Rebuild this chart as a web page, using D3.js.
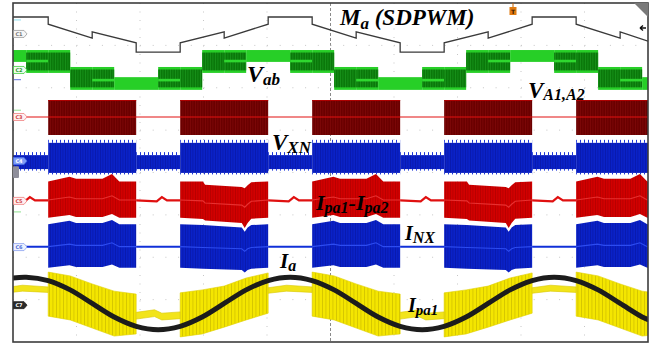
<!DOCTYPE html>
<html>
<head>
<meta charset="utf-8">
<script src="https://cdn.jsdelivr.net/npm/d3@7/dist/d3.min.js"></script>
<style>
html,body{margin:0;padding:0;background:#fff;overflow:hidden;}
svg{display:block;}
.lbl{font-family:"Liberation Serif","Times New Roman",serif;font-weight:bold;font-style:italic;fill:#000;}
.tag{font-family:"DejaVu Sans",sans-serif;font-size:5px;font-weight:bold;}
</style>
</head>
<body>
<svg id="scope" width="658" height="344"></svg>
<script>
// ================= DATA =================
// horizontal: electrical angle (deg); vertical: oscilloscope screen divisions
const timeRange = [-378, 488];
const divRange = [-4, 4];
const gridDivX = [1, 2, 3, 4, 5, 6, 7, 8, 9];
const gridDivY = [-3, -2, -1, 0, 1, 2, 3];

// C1  M_a (SDPWM modulating signal)
const maPoints = [[-378,3.67],[-330,3.67],[-330,3.50],[-270,3.17],[-270,3.32],[-210,3.06],[-210,2.84],[-150,2.84],[-150,3.06],[-90,3.32],[-90,3.17],[-30,3.50],[-30,3.67],[30,3.67],[30,3.50],[90,3.17],[90,3.32],[150,3.06],[150,2.84],[210,2.84],[210,3.06],[270,3.32],[270,3.17],[330,3.50],[330,3.67],[390,3.67],[390,3.50],[450,3.17],[450,3.32],[488,3.10]];

// C2  V_ab  segments [from, to, level-set]
const vabSegments = [[-390,-360,"UB"],[-360,-330,"UL"],[-330,-300,"UH"],[-300,-270,"LH"],[-270,-240,"LL"],[-240,-180,"LB"],[-180,-150,"LL"],[-150,-120,"LH"],[-120,-90,"UH"],[-90,-60,"UL"],[-60,0,"UB"],[0,30,"UL"],[30,60,"UH"],[60,90,"LH"],[90,120,"LL"],[120,180,"LB"],[180,210,"LL"],[210,240,"LH"],[240,270,"UH"],[270,300,"UL"],[300,360,"UB"],[360,390,"UL"],[390,420,"UH"],[420,450,"LH"],[450,480,"LL"],[480,540,"LB"]];
// [top, bottom, inner level]
const vabLevels = {UB:[2.89,2.61,null], UL:[2.89,2.35,2.63], UH:[2.89,2.35,null], LB:[2.25,1.95,null], LL:[2.49,1.95,2.18], LH:[2.49,1.95,null]};

// switching (active) intervals and clamped intervals
const blocks = [[-330,"desc"],[-150,"asc"],[30,"desc"],[210,"asc"],[390,"desc"]];
const gaps = [[-390,"high"],[-210,"low"],[-30,"high"],[150,"low"],[330,"high"]];
const blockSpan = 120;
const gapSpan = 60;

// C3  V_A1,A2  [top, bottom, trace]
const vA1A2Levels = [1.71, 0.885, 1.31];

// C4  V_XN  [top, bottom]
const vxnBlockLevels = [0.70, -0.01];
const vxnGapLevels = [0.41, 0.08];

// C5  I_pa1 - I_pa2   [offset, top, centre, bottom]
const ipaDiffDesc = [[0,-0.21,-0.65,-1.07],[29,-0.10,-0.58,-1.00],[38,-0.15,-0.62,-1.05],[74,-0.15,-0.62,-1.05],[87,-0.035,-0.55,-0.98],[97,-0.21,-0.65,-1.07],[120,-0.21,-0.65,-1.07]];
const ipaDiffAsc = [[0,-0.21,-0.65,-1.07],[31,-0.21,-0.67,-1.10],[34,-0.29,-0.72,-1.13],[84,-0.34,-0.77,-1.19],[88,-0.37,-0.82,-1.31],[92,-0.30,-0.75,-1.19],[97,-0.23,-0.68,-1.09],[120,-0.21,-0.65,-1.07]];
const ipaDiffGap = [[0,-0.66],[28,-0.68],[35,-0.58],[42,-0.66],[60,-0.66]];

// C6  I_NX   [offset, top, centre, bottom]
const inxDesc = [[0,-1.22,-1.75,-2.25],[29,-1.14,-1.69,-2.19],[38,-1.19,-1.72,-2.23],[74,-1.19,-1.72,-2.23],[87,-1.12,-1.66,-2.17],[97,-1.22,-1.75,-2.25],[120,-1.22,-1.75,-2.25]];
const inxAsc = [[0,-1.22,-1.75,-2.25],[31,-1.24,-1.77,-2.27],[84,-1.30,-1.80,-2.30],[88,-1.40,-1.86,-2.36],[92,-1.30,-1.80,-2.30],[97,-1.24,-1.77,-2.27],[120,-1.22,-1.75,-2.25]];
const inxGapLevel = -1.75;

// C7  I_a
const iaPoints = [[-378,-2.49],[-360,-2.47],[-330,-2.55],[-300,-2.77],[-270,-3.09],[-240,-3.41],[-210,-3.63],[-180,-3.71],[-150,-3.63],[-120,-3.41],[-90,-3.09],[-60,-2.77],[-30,-2.55],[0,-2.47],[30,-2.55],[60,-2.77],[90,-3.09],[120,-3.41],[150,-3.63],[180,-3.71],[210,-3.63],[240,-3.41],[270,-3.09],[300,-2.77],[330,-2.55],[360,-2.47],[390,-2.55],[420,-2.77],[450,-3.09],[480,-3.41],[488,-3.47]];

// C8  I_pa1   [offset, top, bottom]
const ipa1Desc = [[0,-2.35,-3.39],[30,-2.44,-3.48],[60,-2.63,-3.67],[90,-2.80,-3.86],[120,-2.87,-3.81]];
const ipa1Asc = [[0,-2.84,-3.88],[30,-2.77,-3.81],[60,-2.68,-3.65],[90,-2.49,-3.48],[120,-2.37,-3.32]];
const ipa1GapHigh = [[0,-2.72,-2.85],[25,-2.66,-2.80],[60,-2.70,-2.83]];
const ipa1GapLow = [[0,-3.30,-3.46],[25,-3.24,-3.40],[35,-3.32,-3.48],[60,-3.29,-3.45]];

// channel reference tags [name, level, stroke, fill, text]
const channelTags = [["C1",3.27,"#9a9a9a","#f6f6f6","#777"],["C2",2.42,"#3ccf3c","#effcef","#2a9a2a"],["C3",1.31,"#f08080","#fff0f0","#d04040"],["C4",0.27,"#4a6ee8","#7f9cf5","#ffffff"],["C5",-0.67,"#f08080","#fff0f0","#d04040"],["C6",-1.76,"#8aa2f0","#eef2ff","#5070d8"],["C7",-3.13,"#222","#2a2a2a","#ffffff"]];

// labels: [text, role]  (m = main, s = subscript)
const labelMa = [["M","m"],["a","s"],[" (SDPWM)","m"]];
const labelVab = [["V","m"],["ab","s"]];
const labelVA = [["V","m"],["A1,A2","s"]];
const labelVXN = [["V","m"],["XN","s"]];
const labelIdiff = [["I","m"],["pa1","s"],["-I","m"],["pa2","s"]];
const labelINX = [["I","m"],["NX","s"]];
const labelIa = [["I","m"],["a","s"]];
const labelIpa1 = [["I","m"],["pa1","s"]];

// ================= DRAWING =================
const svg = d3.select("#scope");
const L = 13, R = 648, T = 3, B = 342;
const x = d3.scaleLinear().domain(timeRange).range([L, R]);
const y = d3.scaleLinear().domain(divRange).range([B, T]);
const xDiv = d3.scaleLinear().domain([0, 10]).range([L, R]);

svg.append("rect").attr("width", 658).attr("height", 344).attr("fill", "#fff");
const defs = svg.append("defs");
defs.append("clipPath").attr("id", "plot").append("rect")
  .attr("x", L).attr("y", T).attr("width", R - L).attr("height", B - T);

function stripes(id, w, base, stripe, sw) {
  const p = defs.append("pattern").attr("id", id).attr("patternUnits", "userSpaceOnUse")
    .attr("width", w).attr("height", 10);
  p.append("rect").attr("width", w).attr("height", 10).attr("fill", base);
  p.append("rect").attr("width", sw).attr("height", 10).attr("fill", stripe);
}
stripes("hDarkRed", 2.5, "#6a0000", "#7e0808", 0.8);
stripes("hGreen", 2.5, "#0a780a", "#17931a", 0.8);
stripes("hBlue", 2.5, "#0a22c8", "#0818aa", 0.8);
stripes("hRed", 2.5, "#d20000", "#b40000", 0.8);
stripes("hYellow", 3.5, "#f4e600", "#cdbd00", 0.7);
stripes("hFringeBlue", 4, "rgba(0,0,0,0)", "#1a34d8", 1);

// grid
const grid = svg.append("g");
gridDivX.forEach(d => grid.append("line")
  .attr("x1", xDiv(d)).attr("x2", xDiv(d)).attr("y1", T).attr("y2", B)
  .attr("stroke", d === 5 ? "#8a8a8a" : "#c6c6c6").attr("stroke-width", 1)
  .attr("stroke-dasharray", d === 5 ? "3,2" : "1,7.5"));
gridDivY.forEach(d => grid.append("line")
  .attr("x1", L).attr("x2", R).attr("y1", y(d)).attr("y2", y(d))
  .attr("stroke", "#c6c6c6").attr("stroke-width", 1)
  .attr("stroke-dasharray", "1,11.7"));

const plot = svg.append("g").attr("clip-path", "url(#plot)");
const lineGen = d3.line().x(d => x(d[0])).y(d => y(d[1]));

// C1 Ma
plot.append("path").datum(maPoints).attr("d", lineGen)
  .attr("fill", "none").attr("stroke", "#3a3a3a").attr("stroke-width", 1.3);

// C2 Vab
vabSegments.forEach(([a, b, k]) => {
  const [top, bot, inner] = vabLevels[k];
  const hatched = k[1] !== "B";
  plot.append("rect").attr("x", x(a)).attr("width", x(b) - x(a))
    .attr("y", y(top)).attr("height", y(bot) - y(top)).attr("fill", "#27cf27");
  if (hatched) {
    plot.append("rect").attr("x", x(a)).attr("width", x(b) - x(a))
      .attr("y", y(top) + 2.5).attr("height", y(bot) - y(top) - 5).attr("fill", "url(#hGreen)");
  }
  if (inner !== null) {
    plot.append("line").attr("x1", x(a)).attr("x2", x(b)).attr("y1", y(inner)).attr("y2", y(inner))
      .attr("stroke", "#2fd82f").attr("stroke-width", 2.6);
  }
});

// C3 V_A1,A2
blocks.forEach(([s]) => {
  plot.append("rect").attr("x", x(s)).attr("width", x(s + blockSpan) - x(s))
    .attr("y", y(vA1A2Levels[0])).attr("height", y(vA1A2Levels[1]) - y(vA1A2Levels[0]))
    .attr("fill", "url(#hDarkRed)");
  plot.append("line").attr("x1", x(s)).attr("x2", x(s + blockSpan))
    .attr("y1", y(vA1A2Levels[0]) + 0.5).attr("y2", y(vA1A2Levels[0]) + 0.5)
    .attr("stroke", "#b00000").attr("stroke-width", 1);
});
plot.append("line").attr("x1", x(timeRange[0])).attr("x2", x(timeRange[1]))
  .attr("y1", y(vA1A2Levels[2])).attr("y2", y(vA1A2Levels[2]))
  .attr("stroke", "#e21010").attr("stroke-width", 1.2);

// C4 V_XN
function vxnRect(a, b, lv) {
  plot.append("rect").attr("x", x(a)).attr("width", x(b) - x(a))
    .attr("y", y(lv[0])).attr("height", y(lv[1]) - y(lv[0])).attr("fill", "url(#hBlue)");
  plot.append("rect").attr("x", x(a)).attr("width", x(b) - x(a))
    .attr("y", y(lv[0]) - 3).attr("height", 3).attr("fill", "url(#hFringeBlue)");
  plot.append("rect").attr("x", x(a)).attr("width", x(b) - x(a))
    .attr("y", y(lv[1])).attr("height", 1.5).attr("fill", "url(#hFringeBlue)");
}
gaps.forEach(([s]) => vxnRect(s, s + gapSpan, vxnGapLevels));
blocks.forEach(([s]) => vxnRect(s, s + blockSpan, vxnBlockLevels));

// C6 I_NX
blocks.forEach(([s, kind]) => {
  const prof = kind === "desc" ? inxDesc : inxAsc;
  plot.append("path").datum(prof)
    .attr("d", d3.area().x(d => x(s + d[0])).y0(d => y(d[3])).y1(d => y(d[1])))
    .attr("fill", "url(#hBlue)");
  plot.append("path").datum(prof)
    .attr("d", d3.line().x(d => x(s + d[0])).y(d => y(d[2])))
    .attr("fill", "none").attr("stroke", "#2d4cf0").attr("stroke-width", 1.1);
});
gaps.forEach(([s]) => {
  plot.append("line").attr("x1", x(s)).attr("x2", x(s + gapSpan))
    .attr("y1", y(inxGapLevel)).attr("y2", y(inxGapLevel))
    .attr("stroke", "#1030d8").attr("stroke-width", 2);
});

// C5 I_pa1 - I_pa2
blocks.forEach(([s, kind]) => {
  const prof = kind === "desc" ? ipaDiffDesc : ipaDiffAsc;
  plot.append("path").datum(prof)
    .attr("d", d3.area().x(d => x(s + d[0])).y0(d => y(d[3])).y1(d => y(d[1])))
    .attr("fill", "url(#hRed)");
  plot.append("path").datum(prof)
    .attr("d", d3.line().x(d => x(s + d[0])).y(d => y(d[2])))
    .attr("fill", "none").attr("stroke", "#e83030").attr("stroke-width", 1.1);
});
gaps.forEach(([s]) => {
  plot.append("path").datum(ipaDiffGap)
    .attr("d", d3.line().x(d => x(s + d[0])).y(d => y(d[1])))
    .attr("fill", "none").attr("stroke", "#e01010").attr("stroke-width", 2.2);
});

// C8 I_pa1 (yellow)
blocks.forEach(([s, kind]) => {
  const prof = kind === "desc" ? ipa1Desc : ipa1Asc;
  plot.append("path").datum(prof)
    .attr("d", d3.area().x(d => x(s + d[0])).y0(d => y(d[2])).y1(d => y(d[1])))
    .attr("fill", "url(#hYellow)").attr("stroke", "#e0d000").attr("stroke-width", 0.6);
});
gaps.forEach(([s, kind]) => {
  const prof = kind === "high" ? ipa1GapHigh : ipa1GapLow;
  plot.append("path").datum(prof)
    .attr("d", d3.area().x(d => x(s + d[0])).y0(d => y(d[2])).y1(d => y(d[1])))
    .attr("fill", "#f2e41a").attr("stroke", "#d8c800").attr("stroke-width", 0.6);
});

// C7 I_a
plot.append("path").datum(iaPoints)
  .attr("d", d3.line().curve(d3.curveCatmullRom).x(d => x(d[0])).y(d => y(d[1])))
  .attr("fill", "none").attr("stroke", "#1c1c1c").attr("stroke-width", 5).attr("stroke-linecap", "round");

// frame
svg.append("rect").attr("x", L).attr("y", T).attr("width", R - L).attr("height", B - T)
  .attr("fill", "none").attr("stroke", "#3c3c3c").attr("stroke-width", 1.6);

// channel tags
channelTags.forEach(([name, lv, st, fi, tc]) => {
  const yc = y(lv);
  svg.append("path")
    .attr("d", `M${L + 0.5},${yc - 3.5}L${L + 11},${yc - 3.5}L${L + 14},${yc}L${L + 11},${yc + 3.5}L${L + 0.5},${yc + 3.5}Z`)
    .attr("fill", fi).attr("stroke", st).attr("stroke-width", 0.8);
  svg.append("text").attr("class", "tag").attr("x", L + 6).attr("y", yc + 1.8)
    .attr("text-anchor", "middle").attr("fill", tc).text(name);
});
// ground marker near C4
svg.append("rect").attr("x", L).attr("y", y(0.15)).attr("width", 6).attr("height", y(-0.13) - y(0.15))
  .attr("rx", 1).attr("fill", "#8e8e9a");
// small offset markers
[[3.6,"#8fe0f0"],[2.19,"#6070e0"],[1.47,"#8ee08e"],[-0.93,"#8ee08e"]].forEach(([lv, c]) => {
  svg.append("line").attr("x1", L + 1).attr("x2", L + 8).attr("y1", y(lv)).attr("y2", y(lv))
    .attr("stroke", c).attr("stroke-width", 1);
});

// trigger marker & corner widgets
svg.append("line").attr("x1", 513).attr("x2", 513).attr("y1", T).attr("y2", 7).attr("stroke", "#c06000").attr("stroke-width", 1);
svg.append("rect").attr("x", 509.5).attr("y", 7).attr("width", 7).attr("height", 8).attr("fill", "#e07a10");
svg.append("text").attr("x", 513).attr("y", 13.5).attr("text-anchor", "middle")
  .style("font-family", "DejaVu Sans").style("font-size", "6px").style("font-weight", "bold").attr("fill", "#3a1a00").text("T");
svg.append("path").attr("d", `M${R - 14},${T}L${R},${T}L${R},${T + 14}Z`).attr("fill", "#7a7a7a");
svg.append("path").attr("d", `M${R - 2},28L${R - 8},28M${R - 8},28L${R - 5},25.5M${R - 8},28L${R - 5},30.5`)
  .attr("stroke", "#111").attr("stroke-width", 1.4).attr("fill", "none");

// labels
function label(parts, px, py, main, sub, drop) {
  const t = svg.append("text").attr("class", "lbl").attr("x", px).attr("y", py);
  let lowered = false;
  parts.forEach(([txt, role]) => {
    const s = t.append("tspan").text(txt).style("font-size", (role === "s" ? sub : main) + "px");
    if (role === "s" && !lowered) { s.attr("dy", drop); lowered = true; }
    else if (role === "m" && lowered) { s.attr("dy", -drop); lowered = false; }
  });
}
label(labelMa, 340, 25, 23, 17, 4);
label(labelVab, 247, 82, 24, 17, 3);
label(labelVA, 528, 98, 23, 16, 2);
label(labelVXN, 272, 150, 23, 17, 3);
label(labelIdiff, 316, 210, 22, 16, 3);
label(labelINX, 405, 240, 20, 16, 3);
label(labelIa, 280, 268, 21, 16, 3);
label(labelIpa1, 408, 312, 20, 15, 3);
</script>
</body>
</html>
